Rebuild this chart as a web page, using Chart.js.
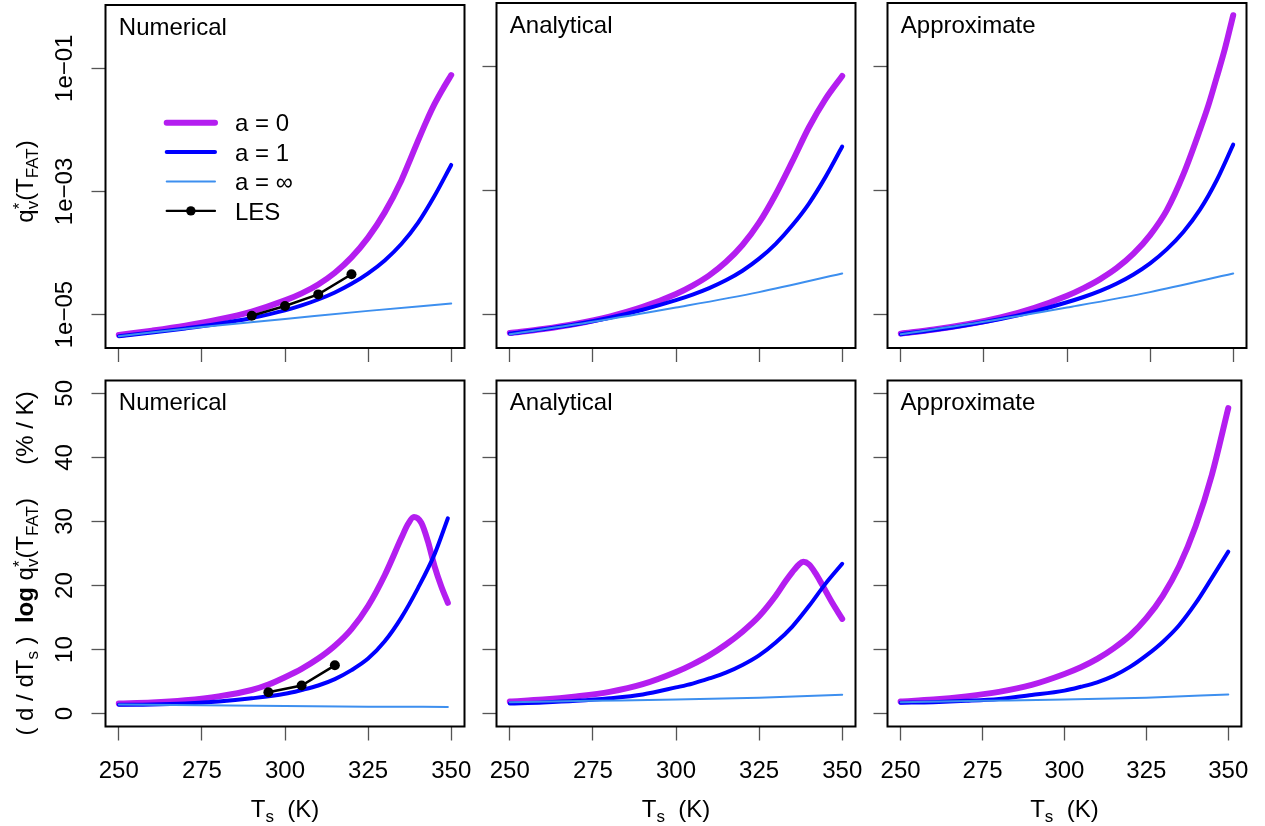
<!DOCTYPE html>
<html><head><meta charset="utf-8">
<script src="https://cdn.jsdelivr.net/npm/chart.js@4.4.0/dist/chart.umd.min.js"></script>
<style>
html,body{margin:0;padding:0;background:#fff;overflow:hidden;}
#wrap{position:relative;width:1265px;height:826px;}
#wrap canvas{position:absolute;left:0;top:0;}
</style></head>
<body><div id="wrap"></div>
<script>
// ---------- axis ticks ----------
const xTickValues = [250, 275, 300, 325, 350];
const xTickLabels = ['250', '275', '300', '325', '350'];
const qTickValues = [1e-5, 1e-3, 1e-1];
const qTickLabels = ['1e\u221205', '1e\u221203', '1e\u221201'];
const rateTickValues = [0, 10, 20, 30, 40, 50];
const rateTickLabels = ['0', '10', '20', '30', '40', '50'];
const panelTitles = ['Numerical', 'Analytical', 'Approximate'];
const legendLabels = ['a = 0', 'a = 1', 'a = \u221e', 'LES'];

// ---------- top row: q*_v(T_FAT) ----------
const qT = [250, 260, 270, 280, 290, 300, 305, 310, 315, 320, 325, 330, 335, 340, 345, 350];
const infT = [250, 275, 300, 325, 350];
const numQ_a0_T = [250, 260, 270, 280, 290, 300, 305, 310, 315, 320, 325, 330, 335, 337.5, 340, 342.5, 345, 347.5, 350];
const numQ_a0 = [4.68e-6, 5.50e-6, 6.61e-6, 8.32e-6, 1.12e-5, 1.70e-5, 2.21e-5, 3.09e-5, 4.79e-5, 8.51e-5, 1.78e-4, 4.57e-4, 1.51e-3, 3.13e-3, 6.61e-3, 1.36e-2, 2.63e-2, 4.62e-2, 7.76e-2];
const numQ_a1 = [4.47e-6, 5.13e-6, 5.96e-6, 7.08e-6, 8.81e-6, 1.17e-5, 1.41e-5, 1.76e-5, 2.29e-5, 3.16e-5, 4.68e-5, 7.59e-5, 1.40e-4, 3.09e-4, 8.51e-4, 2.69e-3];
const numQ_inf = [4.47e-6, 6.31e-6, 8.51e-6, 1.15e-5, 1.51e-5];
const lesQ_T = [290, 300, 310, 320];
const lesQ = [9.6e-6, 1.38e-5, 2.13e-5, 4.53e-5];
const anaQ_a0 = [5.01e-6, 5.82e-6, 7.08e-6, 9.23e-6, 1.32e-5, 2.14e-5, 2.92e-5, 4.27e-5, 7.00e-5, 1.32e-4, 3.02e-4, 8.71e-4, 2.95e-3, 1.05e-2, 3.02e-2, 7.08e-2];
const anaQ_a1 = [4.90e-6, 5.75e-6, 6.92e-6, 8.81e-6, 1.19e-5, 1.70e-5, 2.09e-5, 2.66e-5, 3.55e-5, 5.07e-5, 7.94e-5, 1.38e-4, 2.75e-4, 6.17e-4, 1.66e-3, 5.13e-3];
const anaQ_inf = [4.79e-6, 7.59e-6, 1.29e-5, 2.29e-5, 4.57e-5];
const appQ_a0_T = [250, 260, 270, 280, 290, 300, 305, 310, 315, 320, 325, 330, 335, 340, 342.5, 345, 347.5, 350];
const appQ_a0 = [4.90e-6, 5.69e-6, 6.92e-6, 8.91e-6, 1.26e-5, 2.00e-5, 2.66e-5, 3.72e-5, 5.62e-5, 9.55e-5, 1.91e-4, 4.79e-4, 1.82e-3, 9.55e-3, 2.34e-2, 6.61e-2, 1.94e-1, 6.76e-1];
const appQ_a1 = [4.79e-6, 5.62e-6, 6.76e-6, 8.41e-6, 1.11e-5, 1.57e-5, 1.91e-5, 2.40e-5, 3.16e-5, 4.42e-5, 6.68e-5, 1.12e-4, 2.14e-4, 4.90e-4, 1.45e-3, 5.50e-3];
const appQ_inf = [4.79e-6, 7.59e-6, 1.29e-5, 2.29e-5, 4.57e-5];

// ---------- bottom row: (d/dTs) log q*_v  (%/K) ----------
const numR_a0_T = [250, 260, 270, 280, 290, 295, 300, 305, 310, 315, 320, 325, 330, 335, 337, 338.8, 341, 343, 345, 347, 349];
const numR_a0 = [1.6, 1.75, 2.1, 2.7, 3.7, 4.55, 5.7, 7.0, 8.6, 10.6, 13.2, 16.8, 21.6, 27.4, 29.6, 30.7, 29.8, 26.9, 23.0, 19.9, 17.3];
const numR_a1_T = [250, 260, 270, 280, 290, 300, 305, 310, 315, 320, 325, 330, 335, 340, 345, 349];
const numR_a1 = [1.4, 1.45, 1.6, 1.9, 2.4, 3.1, 3.7, 4.4, 5.4, 6.8, 8.6, 11.3, 15.0, 19.6, 24.9, 30.5];
const numR_inf_T = [250, 275, 300, 325, 349];
const numR_inf = [1.45, 1.3, 1.2, 1.1, 1.05];
const lesR_T = [295, 305, 315];
const lesR = [3.35, 4.4, 7.55];
const rT = [250, 260, 270, 280, 290, 300, 305, 310, 315, 320, 325, 330, 335, 340, 345, 350];
const anaR_a0_T = [250, 260, 270, 280, 290, 300, 305, 310, 315, 320, 325, 330, 333, 335, 337, 338.3, 340, 342, 344, 347, 350];
const anaR_a0 = [1.9, 2.2, 2.7, 3.4, 4.6, 6.5, 7.7, 9.1, 10.8, 12.8, 15.2, 18.4, 20.7, 22.1, 23.3, 23.7, 23.3, 21.9, 20.1, 17.3, 14.8];
const anaR_a1 = [1.6, 1.75, 2.0, 2.4, 3.0, 4.1, 4.7, 5.5, 6.4, 7.6, 9.1, 11.1, 13.6, 16.8, 20.3, 23.4];
const anaR_inf = [1.8, 2.0, 2.2, 2.5, 2.95];
const appR_a0 = [1.9, 2.2, 2.7, 3.4, 4.5, 6.2, 7.25, 8.55, 10.2, 12.2, 14.9, 18.4, 23.0, 29.2, 37.3, 47.7];
const appR_a1 = [1.7, 1.8, 2.0, 2.3, 2.9, 3.6, 4.2, 4.9, 5.9, 7.3, 9.1, 11.2, 13.8, 17.2, 21.2, 25.3];
const appR_inf = [1.8, 2.0, 2.2, 2.5, 3.0];

// ---------- styling ----------
const FONT = '"Liberation Sans", Arial, Helvetica, sans-serif';
const C_A0 = '#B41EF0', C_A1 = '#0000FF', C_INF = '#3D8FEF', C_LES = '#000000';
const W_A0 = 6, W_A1 = 4, W_INF = 2, W_LES = 2.5;
const PAGE_W = 1265, PAGE_H = 826;
const colLeft = [105.5, 496.5, 887.5], colW = 359;
const rowTop = [3, 380.5], rowH = [345, 346];
const xAxisBand = [20, 70];

function fontStr(s) { return (s.bold ? 'bold ' : '') + (s.size || 24) + 'px ' + FONT; }
function segW(ctx, s) {
  if (s.stack) return Math.max.apply(null, s.stack.map(p => { ctx.font = fontStr(p); return ctx.measureText(p.t).width; }));
  ctx.font = fontStr(s); return ctx.measureText(s.t).width;
}
function drawRich(ctx, segs, x, y, rot) {
  ctx.save(); ctx.translate(x, y); ctx.rotate(rot);
  let W = 0; segs.forEach(s => W += segW(ctx, s));
  let cx = -W / 2;
  ctx.textAlign = 'left'; ctx.textBaseline = 'alphabetic'; ctx.fillStyle = '#000';
  segs.forEach(s => {
    const w = segW(ctx, s);
    if (s.stack) s.stack.forEach(p => { ctx.font = fontStr(p); ctx.fillText(p.t, cx, p.dy || 0); });
    else { ctx.font = fontStr(s); ctx.fillText(s.t, cx, s.dy || 0); }
    cx += w;
  });
  ctx.restore();
}
const qvStack = { stack: [{ t: '*', size: 17, dy: -8 }, { t: 'v', size: 17, dy: 5 }] };
const topTitle = [{ t: 'q' }, qvStack, { t: '(T' }, { t: 'FAT', size: 17, dy: 5 }, { t: ')' }];
const botTitle = [{ t: '( d / dT' }, { t: 's', size: 17, dy: 5 }, { t: ' )  ' }, { t: 'log', bold: true }, { t: ' q' }, qvStack,
  { t: '(T' }, { t: 'FAT', size: 17, dy: 5 }, { t: ')     (% / K)' }];
const xTitle = [{ t: 'T' }, { t: 's', size: 17, dy: 5 }, { t: '  (K)' }];

const legendItems = [
  { label: legendLabels[0], color: C_A0, width: W_A0 },
  { label: legendLabels[1], color: C_A1, width: W_A1 },
  { label: legendLabels[2], color: C_INF, width: W_INF },
  { label: legendLabels[3], color: C_LES, width: 2.2, dot: true }
];
function drawLegend(ctx, a) {
  const x0 = a.left + 61.2, x1 = a.left + 109.5, tx = a.left + 129.5;
  legendItems.forEach((it, i) => {
    const y = a.top + 117.7 + i * 29.4;
    ctx.strokeStyle = it.color; ctx.lineWidth = it.width; ctx.lineCap = 'round';
    ctx.beginPath(); ctx.moveTo(x0, y); ctx.lineTo(x1, y); ctx.stroke();
    if (it.dot) { ctx.fillStyle = it.color; ctx.beginPath(); ctx.arc((x0 + x1) / 2, y, 4.7, 0, 2 * Math.PI); ctx.fill(); }
    ctx.fillStyle = '#000'; ctx.font = '24px ' + FONT; ctx.textAlign = 'left'; ctx.textBaseline = 'alphabetic';
    ctx.fillText(it.label, tx, y + 8.6);
  });
}

function line(T, Y, color, width, order) {
  return {
    data: T.map((t, i) => ({ x: t, y: Y[i] })), borderColor: color, backgroundColor: color, borderWidth: width,
    pointRadius: 0, fill: false, cubicInterpolationMode: 'monotone', borderCapStyle: 'round', borderJoinStyle: 'round', order: order
  };
}
function les(T, Y) {
  return {
    data: T.map((t, i) => ({ x: t, y: Y[i] })), borderColor: C_LES, backgroundColor: C_LES, borderWidth: W_LES,
    pointRadius: 5, pointBorderWidth: 0, pointBackgroundColor: C_LES, tension: 0, fill: false, order: 0
  };
}

const panels = [
  { row: 0, col: 0, ds: [line(numQ_a0_T, numQ_a0, C_A0, W_A0, 3), line(qT, numQ_a1, C_A1, W_A1, 2), line(infT, numQ_inf, C_INF, W_INF, 1), les(lesQ_T, lesQ)], legend: true },
  { row: 0, col: 1, ds: [line(qT, anaQ_a0, C_A0, W_A0, 3), line(qT, anaQ_a1, C_A1, W_A1, 2), line(infT, anaQ_inf, C_INF, W_INF, 1)] },
  { row: 0, col: 2, ds: [line(appQ_a0_T, appQ_a0, C_A0, W_A0, 3), line(qT, appQ_a1, C_A1, W_A1, 2), line(infT, appQ_inf, C_INF, W_INF, 1)] },
  { row: 1, col: 0, ds: [line(numR_a0_T, numR_a0, C_A0, W_A0, 3), line(numR_a1_T, numR_a1, C_A1, W_A1, 2), line(numR_inf_T, numR_inf, C_INF, W_INF, 1), les(lesR_T, lesR)] },
  { row: 1, col: 1, ds: [line(anaR_a0_T, anaR_a0, C_A0, W_A0, 3), line(rT, anaR_a1, C_A1, W_A1, 2), line(infT, anaR_inf, C_INF, W_INF, 1)] },
  { row: 1, col: 2, ds: [line(rT, appR_a0, C_A0, W_A0, 3), line(rT, appR_a1, C_A1, W_A1, 2), line(infT, appR_inf, C_INF, W_INF, 1)] }
];

const wrap = document.getElementById('wrap');
panels.forEach((p, idx) => {
  const cv = document.createElement('canvas');
  cv.width = PAGE_W; cv.height = PAGE_H;
  cv.style.width = PAGE_W + 'px'; cv.style.height = PAGE_H + 'px';
  wrap.appendChild(cv);
  const L = colLeft[p.col], T = rowTop[p.row], H = rowH[p.row], XB = xAxisBand[p.row];
  const isTop = p.row === 0;
  const yTicks = isTop ? qTickValues : rateTickValues;
  const yLabels = isTop ? qTickLabels : rateTickLabels;
  const tickGrid = { drawOnChartArea: false, drawTicks: true, tickLength: 14, tickColor: '#555555', tickWidth: 1.3 };
  const deco = {
    id: 'deco' + idx,
    afterDraw(chart) {
      const ctx = chart.ctx, a = chart.chartArea, xs = chart.scales.x, ys = chart.scales.y;
      ctx.save();
      ctx.strokeStyle = '#000'; ctx.lineWidth = 2;
      ctx.strokeRect(a.left, a.top, a.right - a.left, a.bottom - a.top);
      ctx.fillStyle = '#000'; ctx.font = '24px ' + FONT; ctx.textAlign = 'left'; ctx.textBaseline = 'alphabetic';
      ctx.fillText(panelTitles[p.col], xs.getPixelForValue(xTickValues[0]), a.top + 29.7);
      if (p.col === 0) {
        ctx.textAlign = 'center';
        yTicks.forEach((v, i) => {
          const y = ys.getPixelForValue(v);
          ctx.save(); ctx.translate(a.left - 34, y); ctx.rotate(-Math.PI / 2);
          ctx.font = '24px ' + FONT; ctx.fillText(yLabels[i], 0, 0); ctx.restore();
        });
        drawRich(ctx, isTop ? topTitle : botTitle, 33, (a.top + a.bottom) / 2 + (isTop ? 5 : 10), -Math.PI / 2);
      }
      if (!isTop) drawRich(ctx, xTitle, (a.left + a.right) / 2, 817, 0);
      if (p.legend) drawLegend(ctx, a);
      ctx.restore();
    }
  };
  new Chart(cv, {
    type: 'line',
    data: { datasets: p.ds },
    options: {
      responsive: false, animation: false, devicePixelRatio: 1, events: [],
      layout: { padding: { left: L, top: T, right: PAGE_W - L - colW, bottom: PAGE_H - T - H - XB } },
      plugins: { legend: { display: false }, tooltip: { enabled: false }, title: { display: false } },
      scales: {
        x: {
          type: 'linear', position: 'bottom', min: 246, max: 354,
          afterBuildTicks(s) { s.ticks = xTickValues.map(v => ({ value: v })); },
          afterFit(s) { s.height = XB; },
          grid: tickGrid, border: { display: false },
          ticks: {
            display: !isTop, autoSkip: false, maxRotation: 0, minRotation: 0, padding: 16, color: '#000',
            font: { family: FONT, size: 24 }, callback: (v, i) => xTickLabels[i]
          }
        },
        y: {
          type: isTop ? 'logarithmic' : 'linear', position: 'left',
          min: isTop ? 2.87e-6 : -2, max: isTop ? 1.064 : 52,
          afterBuildTicks(s) { s.ticks = yTicks.map(v => ({ value: v })); },
          afterFit(s) { s.width = 0; },
          grid: tickGrid, border: { display: false },
          ticks: { display: false }
        }
      }
    },
    plugins: [deco]
  });
});
</script>
</body></html>
